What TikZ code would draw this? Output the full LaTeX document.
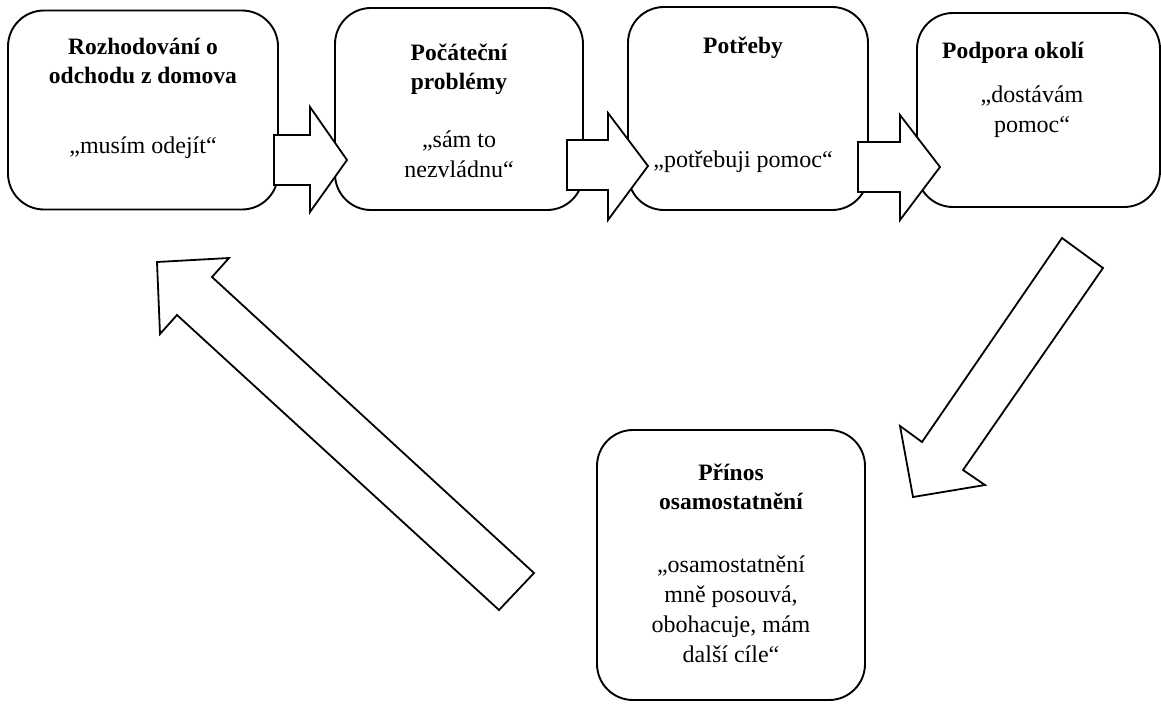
\documentclass[tikz,border=0pt]{standalone}
\usepackage{fontspec}
\setmainfont{Liberation Serif}
\usetikzlibrary{positioning,calc}

\tikzset{
  stage/.style={draw=black, line width=1.9pt, rounded corners=36pt, fill=white, inner sep=0pt},
  headtext/.style={font=\bfseries\fontsize{23.5}{29}\selectfont, align=center, anchor=base},
  quotetext/.style={font=\fontsize{24}{30}\selectfont, align=center, anchor=base},
  blockarrow/.style={draw=black, line width=1.8pt, fill=white, line join=miter}
}

\begin{document}
\begin{tikzpicture}[x=1pt, y=-1pt]
\useasboundingbox (0,0) rectangle (1161,704);
% top row
\node[stage, minimum width=270pt, minimum height=199pt] (stage1) at (143,110) {};
\node[headtext] (head1) at (143,83) {Rozhodování o\\odchodu z domova};
\node[quotetext] (quote1) at (143,153) {„musím odejít“};
\node[stage, minimum width=248pt, minimum height=202pt] (stage2) at (459,109) {};
\node[headtext] (head2) at (459,89) {Počáteční\\problémy};
\node[quotetext] (quote2) at (459,177) {„sám to\\nezvládnu“};
\node[stage, minimum width=240pt, minimum height=203pt] (stage3) at (748,108.5) {};
\node[headtext] (head3) at (743,53) {Potřeby};
\node[quotetext] (quote3) at (743,167) {„potřebuji pomoc“};
\node[stage, minimum width=243pt, minimum height=194pt] (stage4) at (1038.5,110) {};
\node[headtext] (head4) at (1013,58) {Podpora okolí};
\node[quotetext] (quote4) at (1032,132) {„dostávám\\pomoc“};
% bottom
\node[stage, minimum width=268pt, minimum height=270pt] (stage5) at (731,565) {};
\node[headtext] (head5) at (731,509) {Přínos\\osamostatnění};
\node[quotetext] (quote5) at (731,662) {„osamostatnění\\mně posouvá,\\obohacuje, mám\\další cíle“};
% block arrows
\draw[blockarrow] (274,135) -- (310,135) -- (310,107) -- (347,160) -- (310,212) -- (310,185) -- (274,185) -- cycle;
\draw[blockarrow] (567,140) -- (608,140) -- (608,113) -- (648,166) -- (608,220) -- (608,190) -- (567,190) -- cycle;
\draw[blockarrow] (858,142) -- (900,142) -- (900,115) -- (940,167) -- (900,220) -- (900,192) -- (858,192) -- cycle;
\draw[blockarrow] (1062,238) -- (1103,268) -- (963,470) -- (985,485) -- (913,497) -- (900,426) -- (922,442) -- cycle;
\draw[blockarrow] (534,573) -- (499,610) -- (177,315) -- (160,334) -- (157,262) -- (229,258) -- (212,277) -- cycle;
\end{tikzpicture}
\end{document}
